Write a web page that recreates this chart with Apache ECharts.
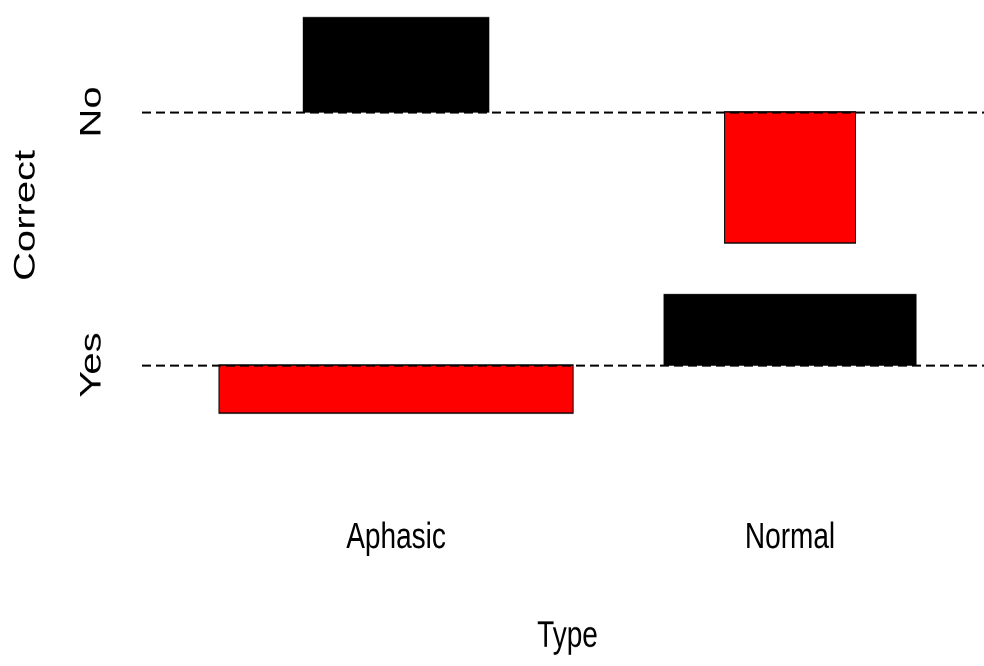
<!DOCTYPE html>
<html><head><meta charset="utf-8">
<script src="https://cdn.jsdelivr.net/npm/echarts@6/dist/echarts.min.js"></script>
<style>
html,body{margin:0;padding:0;background:#fff;overflow:hidden}
#wrap{position:relative;width:984px;height:666px;overflow:hidden;background:#fff}
#chart{position:absolute;left:0;top:0;width:1000px;height:520px;transform:scaleY(1.332) translateY(-19.5px);transform-origin:0 0}
</style></head><body><div id="wrap"><div id="chart"></div></div>
<script>
// Association plot data (R assocplot style)
const typeLabels = ['Aphasic', 'Normal'];
const correctLabels = ['Yes', 'No'];           // bottom to top
const sqrtExpectedYes = [3.57, 2.54];          // sqrt of expected counts, per Type
const sqrtExpectedNo = [1.87, 1.32];
const residualYes = [-0.97, 1.42];             // Pearson residuals, per Type
const residualNo = [1.90, -2.64];
const xTitle = 'Type';
const yTitle = 'Correct';
const space = 0.3;

// ---- layout following R's assocplot algorithm ----
const E = [sqrtExpectedYes, sqrtExpectedNo];
const D = [residualYes, residualNo];
const nx = typeLabels.length, ny = correctLabels.length;
const mean = a => a.reduce((s, v) => s + v, 0) / a.length;
const sum = a => a.reduce((s, v) => s + v, 0);
const xw = typeLabels.map((_, i) => Math.max(...E.map(r => r[i])));
const yh = D.map(r => Math.max(...r) - Math.min(...r));
const xDelta = mean(xw) * space, yDelta = mean(yh) * space;
const xr = sum(xw) + nx * xDelta, yr = sum(yh) + ny * yDelta;
const xm = []; let acc = 0;
xw.forEach((w, i) => { const prev = acc; acc += w + xDelta; xm.push((prev + acc) / 2); });
const ym = []; let accY = 0;
yh.forEach((h, j) => { accY += h + yDelta; ym.push(accY - Math.max(0, ...D[j]) - yDelta / 2); });

const rects = [];
for (let j = 0; j < ny; j++) for (let i = 0; i < nx; i++) rects.push([xm[i], ym[j], E[j][i], D[j][i]]);

const font = { fontFamily: '"Liberation Sans", Arial, sans-serif', fontSize: 28, color: '#000' };
const fontY = { fontFamily: '"Liberation Sans", Arial, sans-serif', fontSize: 30, color: '#000' };
const chart = echarts.init(document.getElementById('chart'), null, { renderer: 'canvas', devicePixelRatio: 2 });
chart.setOption({
  animation: false,
  backgroundColor: '#fff',
  grid: { left: 142, top: 0, width: 851, height: 362.4, containLabel: false },
  xAxis: {
    type: 'value', min: -0.04 * xr, max: 1.04 * xr,
    axisLine: { show: false }, axisTick: { show: false }, splitLine: { show: false },
    axisLabel: Object.assign({ customValues: xm, margin: 47,
      formatter: v => { const k = xm.findIndex(t => Math.abs(t - v) < 1e-6); return k >= 0 ? typeLabels[k] : ''; } }, font),
    name: xTitle, nameLocation: 'middle', nameGap: 121, nameTextStyle: font
  },
  yAxis: {
    type: 'value', min: -0.04 * yr, max: 1.04 * yr,
    axisLine: { show: false }, axisTick: { show: false }, splitLine: { show: false },
    axisLabel: Object.assign({ customValues: ym, margin: 35, rotate: 90,
      formatter: v => { const k = ym.findIndex(t => Math.abs(t - v) < 1e-6); return k >= 0 ? correctLabels[k] : ''; } }, fontY),
    name: yTitle, nameLocation: 'middle', nameGap: 101, nameRotate: 90, nameTextStyle: fontY
  },
  series: [{
    type: 'custom',
    data: rects,
    clip: false,
    renderItem: (params, api) => {
      const x = api.value(0), y = api.value(1), w = api.value(2), d = api.value(3);
      const p1 = api.coord([x - w / 2, y + Math.max(d, 0)]);
      const p2 = api.coord([x + w / 2, y + Math.min(d, 0)]);
      return {
        type: 'rect',
        shape: { x: p1[0], y: p1[1], width: p2[0] - p1[0], height: p2[1] - p1[1] },
        style: { fill: d < 0 ? '#ff0000' : '#000000', stroke: '#000', lineWidth: 1 }
      };
    },
    markLine: {
      silent: true, symbol: 'none', label: { show: false },
      lineStyle: { type: [9, 5], color: '#000', width: 1.5 },
      emphasis: { disabled: true },
      data: ym.map(v => ({ yAxis: v }))
    }
  }]
});
</script></body></html>
